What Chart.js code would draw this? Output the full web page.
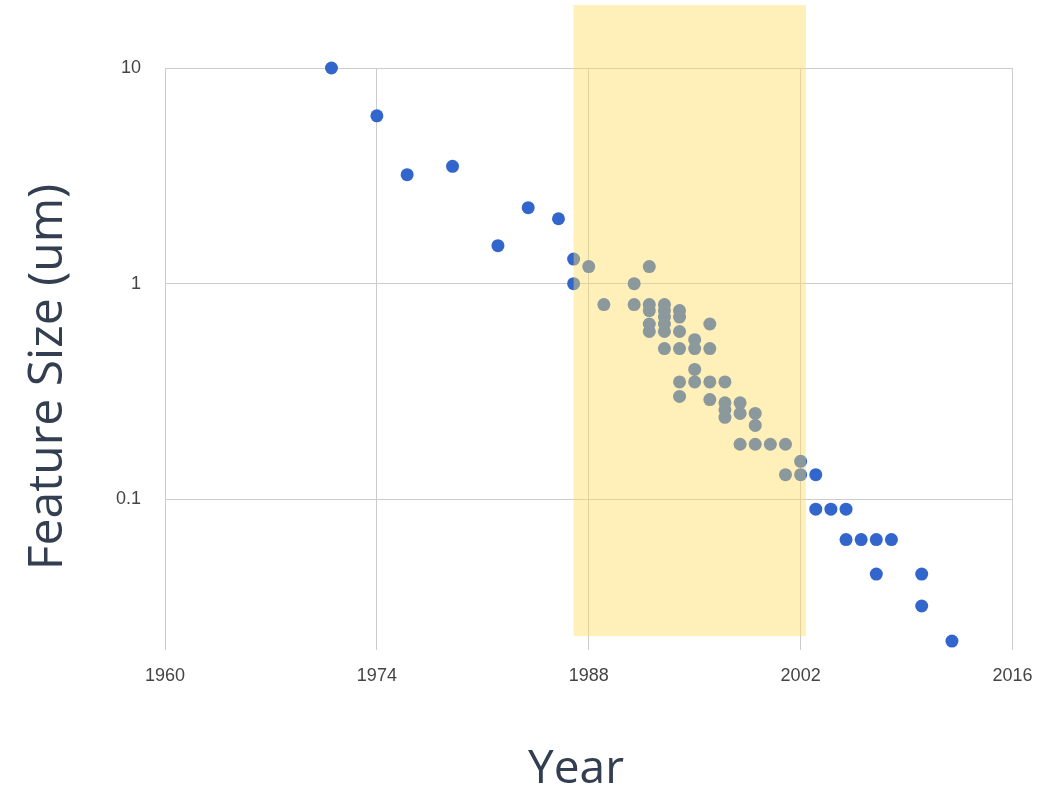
<!DOCTYPE html>
<html>
<head>
<meta charset="utf-8">
<script src="https://cdn.jsdelivr.net/npm/chart.js@4/dist/chart.umd.min.js"></script>
<style>
  html, body { margin: 0; padding: 0; background: #ffffff; }
  #wrap { position: relative; width: 1059px; height: 796px; }
</style>
</head>
<body>
<div id="wrap"><canvas id="chart" width="1059" height="796"></canvas></div>
<script>
// Process node introduction year and minimum feature size (micrometres)
const years = [
  1971, 1974, 1976, 1979, 1982, 1984, 1986, 1987, 1987,
  1988, 1989, 1991, 1991,
  1992, 1992, 1992, 1992, 1992,
  1993, 1993, 1993, 1993, 1993, 1993,
  1994, 1994, 1994, 1994, 1994, 1994,
  1995, 1995, 1995, 1995,
  1996, 1996, 1996, 1996,
  1997, 1997, 1997, 1997,
  1998, 1998, 1998,
  1999, 1999, 1999,
  2000,
  2001, 2001,
  2002, 2002,
  2003, 2003,
  2004,
  2005, 2005,
  2006,
  2007, 2007,
  2008,
  2010, 2010,
  2012
];
const featureSizes = [
  10, 6, 3.2, 3.5, 1.5, 2.25, 2.0, 1.3, 1.0,
  1.2, 0.8, 1.0, 0.8,
  1.2, 0.8, 0.75, 0.65, 0.6,
  0.8, 0.75, 0.7, 0.65, 0.6, 0.5,
  0.75, 0.7, 0.6, 0.5, 0.35, 0.3,
  0.55, 0.5, 0.4, 0.35,
  0.65, 0.5, 0.35, 0.29,
  0.35, 0.28, 0.26, 0.24,
  0.28, 0.25, 0.18,
  0.25, 0.22, 0.18,
  0.18,
  0.18, 0.13,
  0.15, 0.13,
  0.13, 0.09,
  0.09,
  0.09, 0.065,
  0.065,
  0.065, 0.045,
  0.065,
  0.045, 0.032,
  0.022
];

// Axis ticks
const xTicks = [1960, 1974, 1988, 2002, 2016];
const yTicks = [0.1, 1, 10];
const yTickLabels = ['0.1', '1', '10'];

// Shaded period (years) and its vertical reach (feature size)
const bandYears = [1987, 2002.35];
const bandSizes = [0.0232, 19.6];

const xTitle = 'Year';
const yTitle = 'Feature Size (um)';

const points = years.map((y, i) => ({ x: y, y: featureSizes[i] }));

// Translucent highlight laid over the gridlines and points
const bandPlugin = {
  id: 'band',
  afterDatasetsDraw(chart) {
    const { ctx, scales } = chart;
    const x0 = scales.x.getPixelForValue(bandYears[0]);
    const x1 = scales.x.getPixelForValue(bandYears[1]);
    const y0 = scales.y.getPixelForValue(bandSizes[1]);
    const y1 = scales.y.getPixelForValue(bandSizes[0]);
    ctx.save();
    ctx.fillStyle = 'rgba(255, 218, 92, 0.43)';
    ctx.fillRect(x0, y0, x1 - x0, y1 - y0);
    ctx.restore();
  }
};

// Large axis titles
const titlePlugin = {
  id: 'axisTitles',
  afterDraw(chart) {
    const { ctx } = chart;
    ctx.save();
    ctx.fillStyle = '#333f50';
    ctx.textAlign = 'center';
    ctx.textBaseline = 'alphabetic';
    ctx.font = '46px "Open Sans"';
    ctx.fillText(xTitle, 576, 783);
    ctx.font = '48px "Open Sans"';
    ctx.translate(62, 377);
    ctx.rotate(-Math.PI / 2);
    ctx.fillText(yTitle, 0, 0);
    ctx.restore();
  }
};

new Chart(document.getElementById('chart'), {
  type: 'scatter',
  data: {
    datasets: [{
      data: points,
      backgroundColor: '#3366cc',
      borderWidth: 0,
      pointRadius: 6.5,
      pointHoverRadius: 6.5,
      clip: false
    }]
  },
  options: {
    responsive: false,
    animation: false,
    events: [],
    layout: { padding: { top: 68, right: 46.5, bottom: 0, left: 0 } },
    plugins: { legend: { display: false }, tooltip: { enabled: false } },
    scales: {
      x: {
        type: 'linear',
        min: xTicks[0],
        max: xTicks[xTicks.length - 1],
        afterBuildTicks(scale) { scale.ticks = xTicks.map(v => ({ value: v })); },
        afterFit(scale) { scale.height = 146; },
        ticks: {
          callback: v => String(v),
          color: '#444444',
          font: { family: '"Liberation Sans", Arial, sans-serif', size: 18 },
          padding: 15,
          maxRotation: 0
        },
        grid: { color: '#cccccc', lineWidth: 1, drawTicks: false },
        border: { display: false }
      },
      y: {
        type: 'logarithmic',
        min: 0.02,
        max: 10,
        afterBuildTicks(scale) { scale.ticks = yTicks.map(v => ({ value: v })); },
        afterFit(scale) { scale.width = 165; },
        ticks: {
          callback: (v) => yTickLabels[yTicks.indexOf(v)],
          color: '#444444',
          font: { family: '"Liberation Sans", Arial, sans-serif', size: 18 },
          padding: 24
        },
        grid: { color: '#cccccc', lineWidth: 1, drawTicks: false },
        border: { display: false }
      }
    }
  },
  plugins: [bandPlugin, titlePlugin]
});
</script>
</body>
</html>
